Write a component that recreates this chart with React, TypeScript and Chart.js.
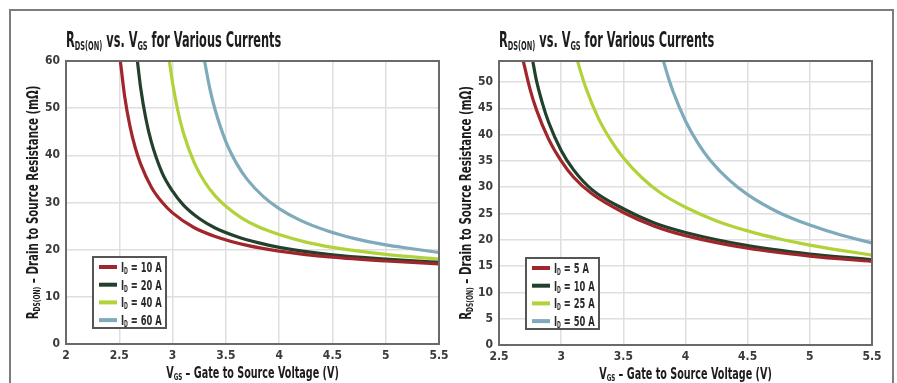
import React, { useEffect, useRef } from 'react';
import { Chart, registerables } from 'chart.js';

Chart.register(...registerables);

const FONT = '"DejaVu Sans Condensed", "Liberation Sans Narrow", "DejaVu Sans", sans-serif';

// ---------- Left chart data ----------
const leftXTicks = [2, 2.5, 3, 3.5, 4, 4.5, 5, 5.5];
const leftYTicks = [0, 10, 20, 30, 40, 50, 60];
const leftCurrents = ['10 A', '20 A', '40 A', '60 A'];

const leftVgs10 = [2.51, 2.55, 2.6, 2.65, 2.7, 2.8, 2.9, 3.0, 3.2, 3.4, 3.7, 4.0, 4.5, 5.0, 5.5];
const leftRds10 = [60, 52.6, 46.2, 41.6, 38.2, 33.3, 30.1, 27.8, 24.7, 22.8, 20.9, 19.7, 18.4, 17.6, 17.0];

const leftVgs20 = [2.67, 2.7, 2.75, 2.8, 2.9, 3.0, 3.1, 3.25, 3.4, 3.6, 3.8, 4.0, 4.5, 5.0, 5.5];
const leftRds20 = [60, 54.4, 47.7, 42.9, 36.4, 32.4, 29.5, 26.6, 24.6, 22.8, 21.5, 20.5, 18.9, 18.0, 17.3];

const leftVgs40 = [2.97, 3.0, 3.05, 3.1, 3.2, 3.3, 3.4, 3.5, 3.65, 3.8, 4.0, 4.25, 4.5, 5.0, 5.5];
const leftRds40 = [60, 55.4, 49.4, 44.9, 38.6, 34.4, 31.4, 29.2, 26.7, 24.9, 23.2, 21.6, 20.5, 19.0, 18.0];

const leftVgs60 = [3.3, 3.35, 3.4, 3.5, 3.6, 3.7, 3.85, 4.0, 4.2, 4.45, 4.7, 5.0, 5.25, 5.5];
const leftRds60 = [60, 54.1, 49.6, 42.9, 38.3, 34.9, 31.3, 28.7, 26.2, 24.0, 22.4, 21.0, 20.2, 19.4];

// ---------- Right chart data ----------
const rightXTicks = [2.5, 3, 3.5, 4, 4.5, 5, 5.5];
const rightYTicks = [0, 5, 10, 15, 20, 25, 30, 35, 40, 45, 50];
const rightYMax = 54;
const rightCurrents = ['5 A', '10 A', '25 A', '50 A'];

const rightVgs5 = [2.69, 2.75, 2.8, 2.9, 3.0, 3.1, 3.25, 3.5, 3.75, 4.0, 4.5, 5.0, 5.5];
const rightRds5 = [54.5, 48.6, 44.8, 39.1, 35.0, 31.9, 28.7, 25.2, 22.6, 20.8, 18.4, 16.9, 15.9];

const rightVgs10 = [2.77, 2.8, 2.85, 2.9, 3.0, 3.1, 3.25, 3.5, 3.75, 4.0, 4.5, 5.0, 5.5];
const rightRds10 = [54.2, 50.4, 45.9, 42.3, 37.0, 33.3, 29.5, 25.9, 23.2, 21.4, 18.9, 17.3, 16.2];

const rightVgs25 = [3.127, 3.15, 3.2, 3.3, 3.4, 3.5, 3.65, 3.8, 4.0, 4.25, 4.5, 4.75, 5.0, 5.25, 5.5];
const rightRds25 = [54.4, 52.5, 48.8, 43.1, 38.9, 35.6, 31.8, 28.9, 26.2, 23.6, 21.7, 20.2, 19.0, 18.0, 17.1];

const rightVgs50 = [3.82, 3.86, 3.9, 4.0, 4.1, 4.2, 4.35, 4.5, 4.75, 5.0, 5.25, 5.5];
const rightRds50 = [54.2, 51.0, 48.2, 42.6, 38.4, 35.1, 31.4, 28.6, 25.2, 22.8, 20.9, 19.4];

const seriesColors = ['#a0262b', '#22402b', '#b2d23a', '#7eaabb'];

type Seg = { t: string; sub?: boolean };

const titleSegs: Seg[] = [
  { t: 'R' }, { t: 'DS(ON)', sub: true }, { t: ' vs. V' }, { t: 'GS', sub: true }, { t: ' for Various Currents' },
];
const yTitleSegs: Seg[] = [
  { t: 'R' }, { t: 'DS(ON)', sub: true }, { t: ' – Drain to Source Resistance (mΩ)' },
];
const xTitleSegs: Seg[] = [
  { t: 'V' }, { t: 'GS', sub: true }, { t: ' – Gate to Source Voltage (V)' },
];

function drawRich(
  ctx: CanvasRenderingContext2D,
  segs: Seg[],
  x: number,
  y: number,
  size: number,
  align: 'left' | 'center',
  sx: number
) {
  const mainFont = `bold ${size}px ${FONT}`;
  const subFont = `bold ${Math.round(size * 0.58)}px ${FONT}`;
  let w = 0;
  const widths = segs.map((s) => {
    ctx.font = s.sub ? subFont : mainFont;
    const m = ctx.measureText(s.t).width * sx;
    w += m;
    return m;
  });
  let cx = align === 'center' ? x - w / 2 : x;
  ctx.textAlign = 'left';
  ctx.textBaseline = 'alphabetic';
  segs.forEach((s, i) => {
    ctx.font = s.sub ? subFont : mainFont;
    ctx.save();
    ctx.translate(cx, s.sub ? y + size * 0.14 : y);
    ctx.scale(sx, 1);
    ctx.fillText(s.t, 0, 0);
    ctx.restore();
    cx += widths[i];
  });
}

const decorPlugin = {
  id: 'decor',
  afterDraw(chart: any, _args: any, opts: any) {
    const { ctx, chartArea: a } = chart;
    ctx.save();
    ctx.strokeStyle = '#6a6a6a';
    ctx.lineWidth = 2;
    ctx.strokeRect(a.left, a.top, a.right - a.left, a.bottom - a.top);

    ctx.fillStyle = '#1c1c1c';
    drawRich(ctx, titleSegs, a.left, a.top - 14, 20.5, 'left', 0.615);
    drawRich(ctx, xTitleSegs, (a.left + a.right) / 2, a.bottom + 34, 15.5, 'center', 0.69);
    ctx.save();
    ctx.translate(a.left - 28, (a.top + a.bottom) / 2);
    ctx.rotate(-Math.PI / 2);
    drawRich(ctx, yTitleSegs, 0, 0, 15.5, 'center', 0.735);
    ctx.restore();

    // legend
    const bx = a.left + 27;
    const by = a.bottom - 87;
    const bw = 73;
    const bh = 71;
    ctx.fillStyle = '#ffffff';
    ctx.fillRect(bx, by, bw, bh);
    ctx.strokeStyle = '#555555';
    ctx.lineWidth = 2;
    ctx.strokeRect(bx, by, bw, bh);
    const labels: string[] = opts.labels;
    labels.forEach((lab, i) => {
      const yy = by + 10 + i * 17.7;
      ctx.strokeStyle = seriesColors[i];
      ctx.lineWidth = 4;
      ctx.beginPath();
      ctx.moveTo(bx + 6, yy);
      ctx.lineTo(bx + 24, yy);
      ctx.stroke();
      ctx.fillStyle = '#2a2a2a';
      drawRich(ctx, [{ t: 'I' }, { t: 'D', sub: true }, { t: ' = ' + lab }], bx + 28, yy + 5, 14.5, 'left', 0.64);
    });
    ctx.restore();
  },
};

type SeriesDef = { x: number[]; y: number[] };

function makeConfig(p: {
  series: SeriesDef[];
  labels: string[];
  xTicks: number[];
  yTicks: number[];
  xMin: number;
  xMax: number;
  yMax: number;
  yWidth: number;
  rightPad: number;
  top: number;
  xHeight: number;
}): any {
  const tickFont = { family: FONT, size: 12, weight: 'bold' as const };
  return {
    type: 'line',
    data: {
      datasets: p.series.map((s, i) => ({
        data: s.x.map((x, j) => ({ x, y: s.y[j] })),
        borderColor: seriesColors[i],
        borderWidth: 3.2,
        pointRadius: 0,
        cubicInterpolationMode: 'monotone',
        fill: false,
        clip: 0,
      })),
    },
    options: {
      responsive: false,
      animation: false,
      devicePixelRatio: 1,
      layout: { padding: { left: 0, top: p.top, right: p.rightPad, bottom: 0 } },
      plugins: {
        legend: { display: false },
        tooltip: { enabled: false },
        decor: { labels: p.labels },
      },
      scales: {
        x: {
          type: 'linear',
          min: p.xMin,
          max: p.xMax,
          afterBuildTicks: (s: any) => {
            s.ticks = p.xTicks.map((v) => ({ value: v }));
          },
          afterFit: (s: any) => {
            s.height = p.xHeight;
          },
          grid: { color: '#e0dede', lineWidth: 1.5, drawTicks: false },
          border: { display: false },
          ticks: { font: tickFont, color: '#3a3a3a', padding: 5, maxRotation: 0, callback: (v: any) => String(v) },
        },
        y: {
          type: 'linear',
          min: 0,
          max: p.yMax,
          afterBuildTicks: (s: any) => {
            s.ticks = p.yTicks.map((v) => ({ value: v }));
          },
          afterFit: (s: any) => {
            s.width = p.yWidth;
          },
          grid: { color: '#e0dede', lineWidth: 1.5, drawTicks: false },
          border: { display: false },
          ticks: { font: tickFont, color: '#3a3a3a', padding: 6, callback: (v: any) => String(v) },
        },
      },
    },
    plugins: [decorPlugin],
  };
}

export default function App() {
  const leftRef = useRef<HTMLCanvasElement>(null);
  const rightRef = useRef<HTMLCanvasElement>(null);

  useEffect(() => {
    const left = new Chart(
      leftRef.current!,
      makeConfig({
        series: [
          { x: leftVgs10, y: leftRds10 },
          { x: leftVgs20, y: leftRds20 },
          { x: leftVgs40, y: leftRds40 },
          { x: leftVgs60, y: leftRds60 },
        ],
        labels: leftCurrents,
        xTicks: leftXTicks,
        yTicks: leftYTicks,
        xMin: 2,
        xMax: 5.5,
        yMax: 60,
        yWidth: 66,
        rightPad: 16,
        top: 61,
        xHeight: 39,
      })
    );
    const right = new Chart(
      rightRef.current!,
      makeConfig({
        series: [
          { x: rightVgs5, y: rightRds5 },
          { x: rightVgs10, y: rightRds10 },
          { x: rightVgs25, y: rightRds25 },
          { x: rightVgs50, y: rightRds50 },
        ],
        labels: rightCurrents,
        xTicks: rightXTicks,
        yTicks: rightYTicks,
        xMin: 2.5,
        xMax: 5.5,
        yMax: rightYMax,
        yWidth: 49,
        rightPad: 25,
        top: 61,
        xHeight: 38,
      })
    );
    return () => {
      left.destroy();
      right.destroy();
    };
  }, []);

  return (
    <div style={{ position: 'absolute', left: 0, top: 0, width: 897, height: 383, background: '#fff', overflow: 'hidden' }}>
      <div
        style={{
          position: 'absolute',
          left: 9,
          top: 9,
          width: 885,
          height: 400,
          boxSizing: 'border-box',
          borderTop: '2px solid #7d7d7d',
          borderLeft: '2px solid #7d7d7d',
          borderRight: '2px solid #7d7d7d',
        }}
      />
      <canvas ref={leftRef} width={455} height={383} style={{ position: 'absolute', left: 0, top: 0 }} />
      <canvas ref={rightRef} width={447} height={383} style={{ position: 'absolute', left: 450, top: 0 }} />
    </div>
  );
}
